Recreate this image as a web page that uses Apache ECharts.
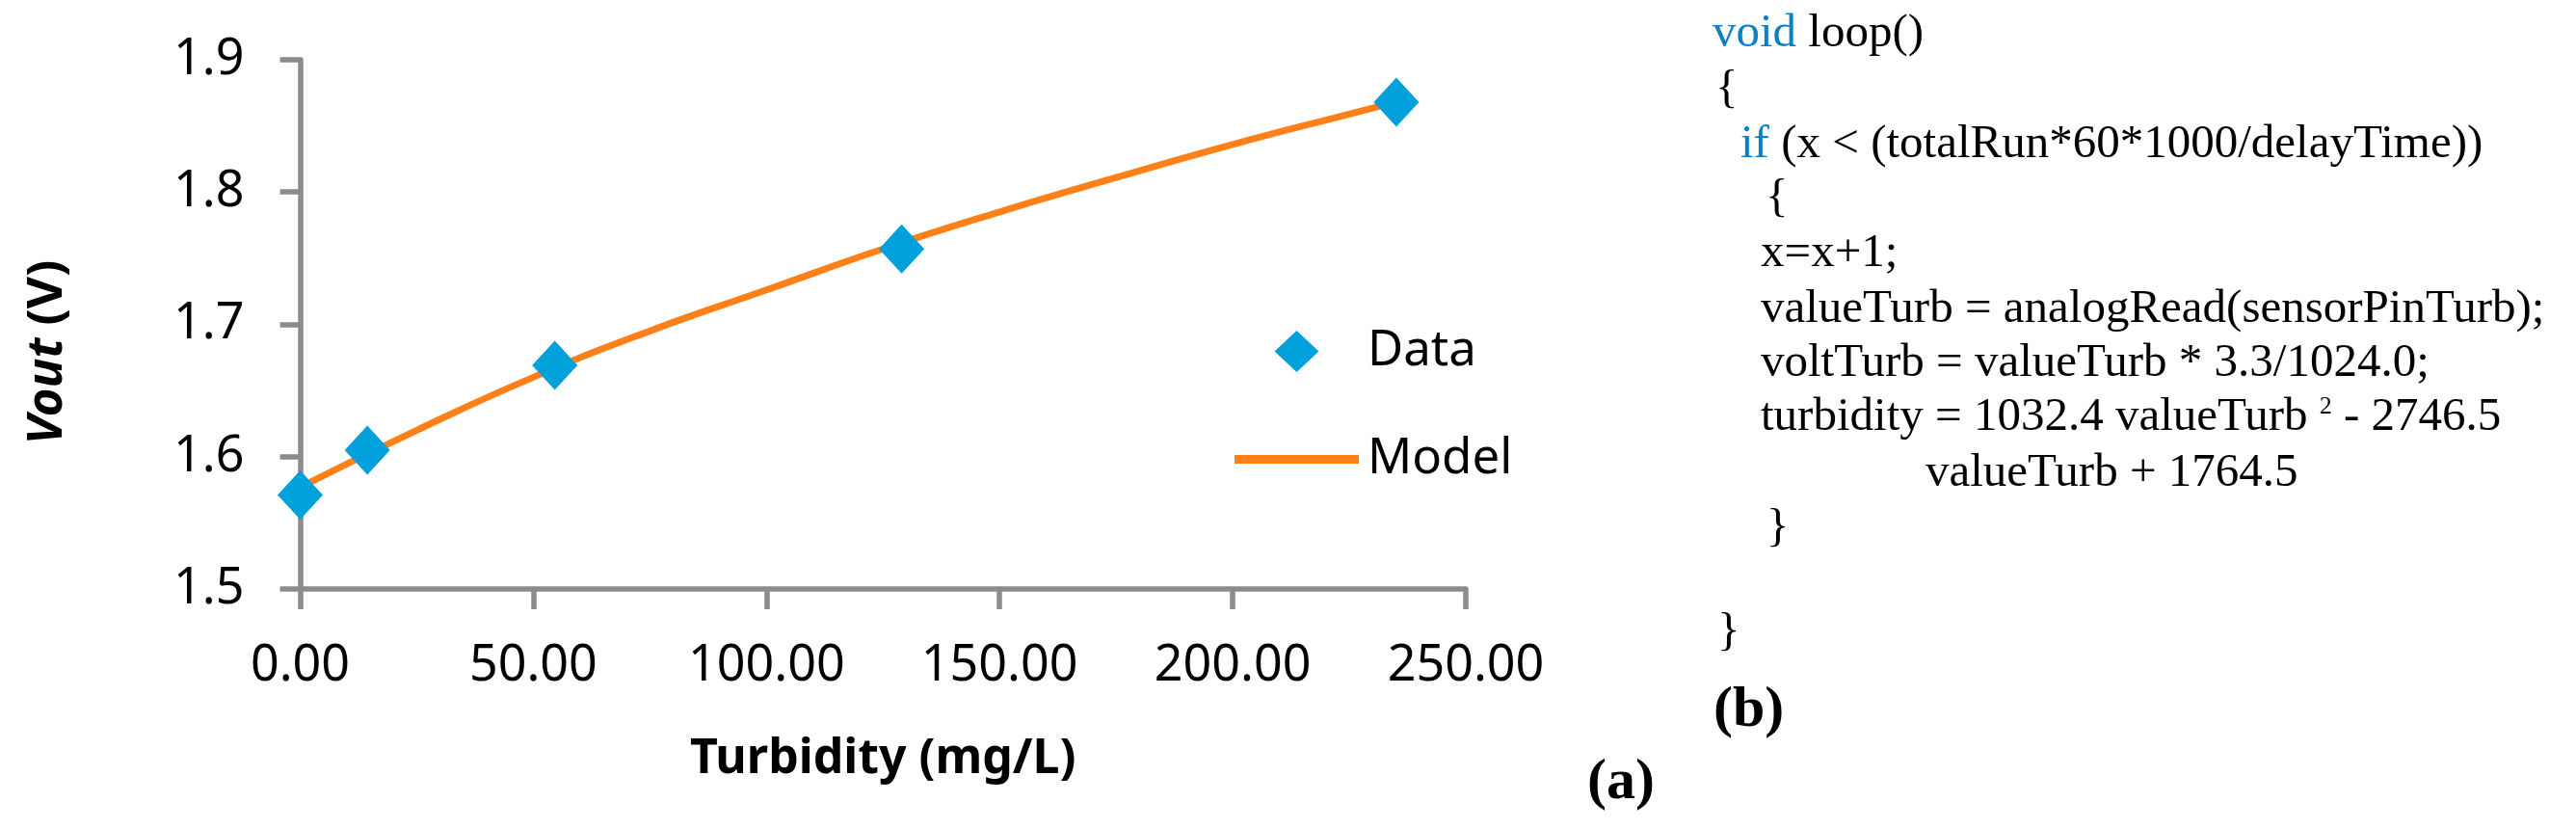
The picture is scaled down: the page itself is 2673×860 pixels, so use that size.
<!DOCTYPE html>
<html>
<head>
<meta charset="utf-8">
<script src="https://cdn.jsdelivr.net/npm/echarts@6/dist/echarts.min.js"></script>
<style>
  html, body { margin: 0; padding: 0; background: #fff; }
  #chart { width: 2673px; height: 860px; }
</style>
</head>
<body>
<div id="chart"></div>
<script>
let turbidity = [0, 14.4, 54.6, 129.0, 235.1];
let vout = [1.571, 1.605, 1.669, 1.757, 1.868];

let modelTurbidity = [0, 25, 50, 75, 100, 125, 150, 175, 200, 225, 235];
let modelVout = [1.577, 1.620, 1.660, 1.695, 1.726, 1.757, 1.785, 1.811, 1.836, 1.859, 1.868];

let xTickLabels = ['0.00', '50.00', '100.00', '150.00', '200.00', '250.00'];
let yTickLabels = ['1.5', '1.6', '1.7', '1.8', '1.9'];

// panel (b) text, one entry per line
let codeLines = [
  '{k|void} loop()',
  '{',
  '{k|if} (x < (totalRun*60*1000/delayTime))',
  '{',
  'x=x+1;',
  'valueTurb = analogRead(sensorPinTurb);',
  'voltTurb = valueTurb * 3.3/1024.0;',
  'turbidity = 1032.4 valueTurb {s|2} - 2746.5',
  'valueTurb + 1764.5',
  '}',
  '}'
];

let colors = {
  data: '#00A0DA',
  model: '#FF8019',
  axis: '#8C8C8C',
  code: '#0C80C4'
};

// layout of the code lines: left edge and baseline
let codeLeft = [1777, 1780, 1806, 1832, 1827, 1827, 1827, 1827, 1998, 1833, 1782];
let codeBase = [52, 110, 167, 223, 280, 338, 394, 450, 508, 565, 673];
let codeSize = 49;

// legend icons: a diamond and a thick line segment
let diamondIcon = 'path://M23,0L46,21.5L23,43L0,21.5Z';
let lineIcon = 'path://M0,0L129,0L129,9L0,9Z';

function pairs(xs, ys) {
  return xs.map(function(x, i) { return [x, ys[i]]; });
}

let graphics = codeLines.map(function(line, i) {
  return {
    type: 'text',
    x: codeLeft[i],
    y: codeBase[i] - codeSize * 0.34,
    style: {
      text: line,
      fill: '#000',
      font: codeSize + 'px "Liberation Serif"',
      textAlign: 'left',
      textVerticalAlign: 'middle',
      rich: {
        k: { fill: colors.code, fontSize: codeSize, fontFamily: 'Liberation Serif' },
        s: { fill: '#000', fontSize: 26, fontFamily: 'Liberation Serif', verticalAlign: 'top' }
      }
    }
  };
});

graphics.push({
  type: 'text', x: 1778, y: 737,
  style: { text: '(b)', fill: '#000', font: 'bold 60px "Liberation Serif"', textAlign: 'left', textVerticalAlign: 'middle' }
});
graphics.push({
  type: 'text', x: 1647, y: 812,
  style: { text: '(a)', fill: '#000', font: 'bold 60px "Liberation Serif"', textAlign: 'left', textVerticalAlign: 'middle' }
});

let option = {
  animation: false,
  backgroundColor: '#fff',
  textStyle: { fontFamily: 'Noto Sans' },
  grid: {
    left: 311.5,
    right: 1152,
    top: 62,
    bottom: 249,
    containLabel: false,
    outerBoundsMode: 'none'
  },
  legend: {
    orient: 'vertical',
    left: 1281,
    top: 339,
    padding: 0,
    itemWidth: 129,
    itemHeight: 43,
    itemGap: 61,
    symbolKeepAspect: true,
    textStyle: {
      color: '#000',
      fontSize: 51,
      fontFamily: 'Noto Sans',
      padding: [0, 0, 0, 4]
    },
    data: [
      { name: 'Data', icon: diamondIcon },
      { name: 'Model', icon: lineIcon }
    ]
  },
  xAxis: {
    type: 'value',
    min: 0,
    max: 250,
    interval: 50,
    name: 'Turbidity (mg/L)',
    nameLocation: 'middle',
    nameGap: 152,
    nameTextStyle: { color: '#000', fontSize: 50, fontWeight: 'bold', fontFamily: 'Noto Sans' },
    axisLine: { lineStyle: { color: colors.axis, width: 5.5 } },
    axisTick: { show: true, inside: false, length: 21, lineStyle: { color: colors.axis, width: 5.5 } },
    axisLabel: {
      color: '#000',
      fontSize: 52,
      margin: 54,
      formatter: function(v) { return xTickLabels[Math.round(v / 50)]; }
    },
    splitLine: { show: false }
  },
  yAxis: {
    type: 'value',
    min: 1.5,
    max: 1.9,
    interval: 0.1,
    name: '{i|Vout} (V)',
    nameLocation: 'middle',
    nameGap: 237,
    nameTextStyle: {
      color: '#000',
      fontSize: 51,
      fontWeight: 'bold',
      fontFamily: 'Noto Sans',
      padding: [0, 58, 0, 0],
      rich: {
        i: { fontStyle: 'italic', fontWeight: 'bold', fontSize: 51, fontFamily: 'Noto Sans', color: '#000' }
      }
    },
    axisLine: { show: true, lineStyle: { color: colors.axis, width: 5.5 } },
    axisTick: { show: true, inside: false, length: 21, lineStyle: { color: colors.axis, width: 5.5 } },
    axisLabel: {
      color: '#000',
      fontSize: 52,
      margin: 58,
      formatter: function(v) { return yTickLabels[Math.round((v - 1.5) * 10)]; }
    },
    splitLine: { show: false }
  },
  series: [
    {
      name: 'Model',
      type: 'line',
      data: pairs(modelTurbidity, modelVout),
      smooth: true,
      symbol: 'none',
      z: 2,
      lineStyle: { color: colors.model, width: 7 },
      itemStyle: { color: colors.model }
    },
    {
      name: 'Data',
      type: 'scatter',
      data: pairs(turbidity, vout),
      symbol: 'diamond',
      symbolSize: [47, 51],
      z: 3,
      itemStyle: { color: colors.data, opacity: 1 }
    }
  ],
  graphic: graphics
};

let chart = echarts.init(document.getElementById('chart'));
chart.setOption(option);
</script>
</body>
</html>
